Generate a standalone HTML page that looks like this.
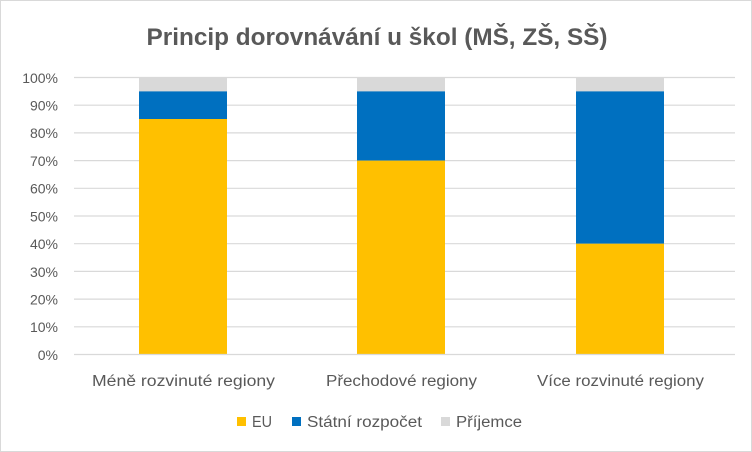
<!DOCTYPE html>
<html><head><meta charset="utf-8"><style>html,body{margin:0;padding:0;background:#fff}svg{display:block}</style></head>
<body>
<svg width="752" height="452" viewBox="0 0 752 452" xmlns="http://www.w3.org/2000/svg" font-family="Liberation Sans, DejaVu Sans, sans-serif">
<rect x="0.5" y="0.5" width="751" height="451" fill="#fff" stroke="#d9d9d9"/>
<text x="377" y="45" text-anchor="middle" font-size="24" font-weight="bold" fill="#595959" textLength="461" lengthAdjust="spacingAndGlyphs">Princip dorovnávání u škol (MŠ, ZŠ, SŠ)</text>
<g stroke="#d9d9d9" stroke-width="1.2">
<line x1="74" x2="735" y1="77.5" y2="77.5"/><line x1="74" x2="735" y1="105.2" y2="105.2"/><line x1="74" x2="735" y1="132.9" y2="132.9"/><line x1="74" x2="735" y1="160.6" y2="160.6"/><line x1="74" x2="735" y1="188.3" y2="188.3"/><line x1="74" x2="735" y1="216" y2="216"/><line x1="74" x2="735" y1="243.7" y2="243.7"/><line x1="74" x2="735" y1="271.4" y2="271.4"/><line x1="74" x2="735" y1="299.1" y2="299.1"/><line x1="74" x2="735" y1="326.8" y2="326.8"/>
</g>
<g font-size="14" fill="#595959" text-anchor="end">
<text x="58" y="83">100%</text><text x="58" y="110.5">90%</text><text x="58" y="138.2">80%</text><text x="58" y="166">70%</text><text x="58" y="193.7">60%</text><text x="58" y="221.4">50%</text><text x="58" y="249">40%</text><text x="58" y="276.8">30%</text><text x="58" y="304.5">20%</text><text x="58" y="332.2">10%</text><text x="58" y="360">0%</text>
</g>
<rect x="139" y="77.5" width="88" height="14" fill="#d9d9d9"/>
<rect x="139" y="91.4" width="88" height="27.7" fill="#0070c0"/>
<rect x="139" y="119" width="88" height="235.5" fill="#ffc000"/>
<rect x="357" y="77.5" width="88" height="14" fill="#d9d9d9"/>
<rect x="357" y="91.4" width="88" height="69.2" fill="#0070c0"/>
<rect x="357" y="160.6" width="88" height="193.9" fill="#ffc000"/>
<rect x="576" y="77.5" width="88" height="14" fill="#d9d9d9"/>
<rect x="576" y="91.4" width="88" height="152.3" fill="#0070c0"/>
<rect x="576" y="243.7" width="88" height="110.8" fill="#ffc000"/>
<line x1="74" x2="735" y1="354.5" y2="354.5" stroke="#d9d9d9" stroke-width="1.2"/>
<g font-size="15.5" fill="#595959">
<text x="92" y="386" textLength="183" lengthAdjust="spacingAndGlyphs">Méně rozvinuté regiony</text>
<text x="326" y="386" textLength="151" lengthAdjust="spacingAndGlyphs">Přechodové regiony</text>
<text x="537" y="386" textLength="167" lengthAdjust="spacingAndGlyphs">Více rozvinuté regiony</text>
</g>
<g font-size="15.5" fill="#595959">
<rect x="237" y="417" width="9" height="9" fill="#ffc000"/><text x="252" y="427" textLength="20" lengthAdjust="spacingAndGlyphs">EU</text>
<rect x="292" y="417" width="9" height="9" fill="#0070c0"/><text x="307" y="427" textLength="115" lengthAdjust="spacingAndGlyphs">Státní rozpočet</text>
<rect x="441" y="417" width="9" height="9" fill="#d9d9d9"/><text x="456" y="427" textLength="66" lengthAdjust="spacingAndGlyphs">Příjemce</text>
</g>
</svg>
</body></html>
